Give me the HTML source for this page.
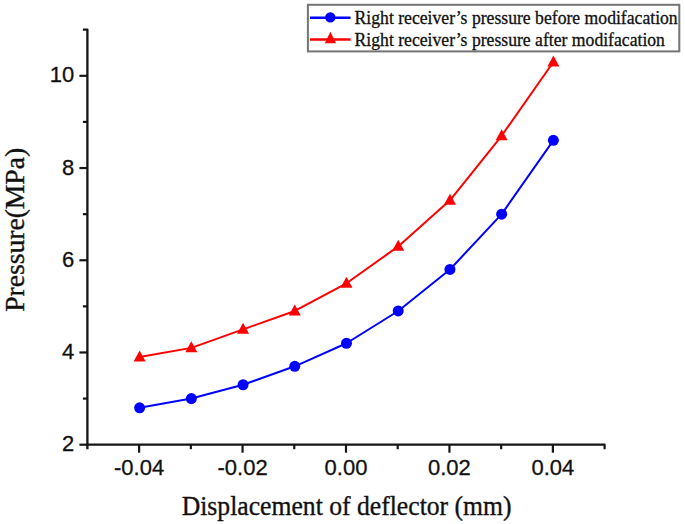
<!DOCTYPE html>
<html><head><meta charset="utf-8"><style>
html,body{margin:0;padding:0;background:#fff;}
body{width:685px;height:524px;overflow:hidden;}
svg{display:block;}
.tl{font-family:"Liberation Sans",sans-serif;font-size:22px;fill:#111;stroke:#111;stroke-width:0.3px;}
.lg{font-family:"Liberation Serif",serif;font-size:17.8px;fill:#111;stroke:#111;stroke-width:0.3px;}
.tt{font-family:"Liberation Serif",serif;font-size:27px;fill:#111;stroke:#111;stroke-width:0.35px;}
</style></head><body>
<svg width="685" height="524" viewBox="0 0 685 524">
<path d="M82.9,29.71 L87.4,29.71 L87.4,449.3" fill="none" stroke="#161616" stroke-width="2.3" stroke-linejoin="round"/>
<path d="M86.4,444.7 L604.60,444.7 L604.60,449.2" fill="none" stroke="#161616" stroke-width="2.2" stroke-linejoin="round"/>
<line x1="139.12" y1="444.7" x2="139.12" y2="452.7" stroke="#161616" stroke-width="2.2"/>
<line x1="190.84" y1="444.7" x2="190.84" y2="449.2" stroke="#161616" stroke-width="2.2"/>
<line x1="242.56" y1="444.7" x2="242.56" y2="452.7" stroke="#161616" stroke-width="2.2"/>
<line x1="294.28" y1="444.7" x2="294.28" y2="449.2" stroke="#161616" stroke-width="2.2"/>
<line x1="346.00" y1="444.7" x2="346.00" y2="452.7" stroke="#161616" stroke-width="2.2"/>
<line x1="397.72" y1="444.7" x2="397.72" y2="449.2" stroke="#161616" stroke-width="2.2"/>
<line x1="449.44" y1="444.7" x2="449.44" y2="452.7" stroke="#161616" stroke-width="2.2"/>
<line x1="501.16" y1="444.7" x2="501.16" y2="449.2" stroke="#161616" stroke-width="2.2"/>
<line x1="552.88" y1="444.7" x2="552.88" y2="452.7" stroke="#161616" stroke-width="2.2"/>
<line x1="87.4" y1="444.70" x2="79.4" y2="444.70" stroke="#161616" stroke-width="2.2"/>
<line x1="87.4" y1="398.59" x2="82.9" y2="398.59" stroke="#161616" stroke-width="2.2"/>
<line x1="87.4" y1="352.48" x2="79.4" y2="352.48" stroke="#161616" stroke-width="2.2"/>
<line x1="87.4" y1="306.37" x2="82.9" y2="306.37" stroke="#161616" stroke-width="2.2"/>
<line x1="87.4" y1="260.26" x2="79.4" y2="260.26" stroke="#161616" stroke-width="2.2"/>
<line x1="87.4" y1="214.15" x2="82.9" y2="214.15" stroke="#161616" stroke-width="2.2"/>
<line x1="87.4" y1="168.04" x2="79.4" y2="168.04" stroke="#161616" stroke-width="2.2"/>
<line x1="87.4" y1="121.93" x2="82.9" y2="121.93" stroke="#161616" stroke-width="2.2"/>
<line x1="87.4" y1="75.82" x2="79.4" y2="75.82" stroke="#161616" stroke-width="2.2"/>
<text x="74.3" y="451.30" text-anchor="end" class="tl">2</text>
<text x="74.3" y="359.08" text-anchor="end" class="tl">4</text>
<text x="74.3" y="266.86" text-anchor="end" class="tl">6</text>
<text x="74.3" y="174.64" text-anchor="end" class="tl">8</text>
<text x="74.3" y="82.42" text-anchor="end" class="tl">10</text>
<text x="139.12" y="475.0" text-anchor="middle" class="tl">-0.04</text>
<text x="242.56" y="475.0" text-anchor="middle" class="tl">-0.02</text>
<text x="346.00" y="475.0" text-anchor="middle" class="tl">0.00</text>
<text x="449.44" y="475.0" text-anchor="middle" class="tl">0.02</text>
<text x="552.88" y="475.0" text-anchor="middle" class="tl">0.04</text>
<polyline points="139.62,357.09 191.34,347.87 243.06,329.42 294.78,310.98 346.50,283.31 398.22,246.43 449.94,200.32 501.66,135.76 553.38,61.99" fill="none" stroke="#ff0000" stroke-width="2" stroke-linejoin="round"/>
<polyline points="139.62,407.81 191.34,398.59 243.06,384.76 294.78,366.31 346.50,343.26 398.22,310.98 449.94,269.48 501.66,214.15 553.38,140.37" fill="none" stroke="#0000ff" stroke-width="2" stroke-linejoin="round"/>
<path d="M139.62,350.49 L145.62,361.49 L133.62,361.49Z" fill="#ff0000"/>
<path d="M191.34,341.27 L197.34,352.27 L185.34,352.27Z" fill="#ff0000"/>
<path d="M243.06,322.82 L249.06,333.82 L237.06,333.82Z" fill="#ff0000"/>
<path d="M294.78,304.38 L300.78,315.38 L288.78,315.38Z" fill="#ff0000"/>
<path d="M346.50,276.71 L352.50,287.71 L340.50,287.71Z" fill="#ff0000"/>
<path d="M398.22,239.83 L404.22,250.83 L392.22,250.83Z" fill="#ff0000"/>
<path d="M449.94,193.72 L455.94,204.72 L443.94,204.72Z" fill="#ff0000"/>
<path d="M501.66,129.16 L507.66,140.16 L495.66,140.16Z" fill="#ff0000"/>
<path d="M553.38,55.39 L559.38,66.39 L547.38,66.39Z" fill="#ff0000"/>
<circle cx="139.62" cy="407.81" r="5.5" fill="#0000ff"/>
<circle cx="191.34" cy="398.59" r="5.5" fill="#0000ff"/>
<circle cx="243.06" cy="384.76" r="5.5" fill="#0000ff"/>
<circle cx="294.78" cy="366.31" r="5.5" fill="#0000ff"/>
<circle cx="346.50" cy="343.26" r="5.5" fill="#0000ff"/>
<circle cx="398.22" cy="310.98" r="5.5" fill="#0000ff"/>
<circle cx="449.94" cy="269.48" r="5.5" fill="#0000ff"/>
<circle cx="501.66" cy="214.15" r="5.5" fill="#0000ff"/>
<circle cx="553.38" cy="140.37" r="5.5" fill="#0000ff"/>
<rect x="307.9" y="4.8" width="371.4" height="46.6" fill="#fff" stroke="#747474" stroke-width="2"/>
<line x1="310" y1="17.8" x2="350.5" y2="17.8" stroke="#0000ff" stroke-width="2.4"/>
<circle cx="330.3" cy="17.4" r="5.2" fill="#0000ff"/>
<line x1="310" y1="39.5" x2="350.5" y2="39.5" stroke="#ff0000" stroke-width="2.4"/>
<path d="M330.4,31.8 L336,43.3 L324.8,43.3Z" fill="#ff0000"/>
<text x="0" y="0" class="lg" transform="translate(354.6,23.8) scale(0.992,1)">Right receiver’s pressure before modifacation</text>
<text x="0" y="0" class="lg" transform="translate(354.6,45.6) scale(0.992,1)">Right receiver’s pressure after modifacation</text>
<text x="0" y="0" class="tt" transform="translate(181.7,515.1) scale(0.951,1)">Displacement of deflector (mm)</text>
<text x="0" y="0" class="tt" transform="translate(24.1,311.8) rotate(-90) scale(1.022,1)">Pressure(MPa)</text>
</svg>
</body></html>
